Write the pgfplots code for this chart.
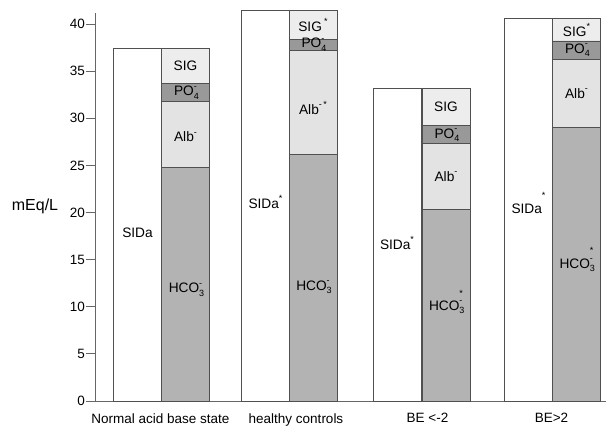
\documentclass[border=0pt]{standalone}
\usepackage{fontspec}
\setmainfont{Liberation Sans}
\usepackage{pgfplots}
\usepackage{pgfplotstable}
\pgfplotsset{compat=1.18}
\definecolor{edge}{HTML}{505050}
\definecolor{hco}{HTML}{B3B3B3}
\definecolor{alb}{HTML}{E3E3E3}
\definecolor{po}{HTML}{999999}
\definecolor{sig}{HTML}{EDEDED}
\definecolor{axisc}{HTML}{666666}
\newcommand{\lblfont}{\fontsize{13.7}{16}\selectfont}
\newcommand{\sbs}[1]{\raisebox{-0.45ex}{\fontsize{9}{10}\selectfont #1}}
\newcommand{\sps}[1]{\raisebox{0.95ex}{\fontsize{9}{10}\selectfont #1}}
\newcommand{\sss}[1]{\raisebox{2.0ex}{\fontsize{9}{10}\selectfont #1}}
\tikzset{blbl/.style={font=\lblfont, inner sep=0pt}}

\pgfplotstableread{
x     white  hco   alb   po    sig
137.5 37.4   0     0     0     0
185.5 0      24.8  7.0   1.9   3.7
265.5 41.4   0     0     0     0
313   0      26.2  11.0  1.2   3.0
397   33.2   0     0     0     0
446   0      20.3  7.0   1.95  3.95
528.5 40.6   0     0     0     0
576.5 0      29.0  7.25  1.95  2.4
}\chartdata

\begin{document}
\begin{tikzpicture}
\begin{axis}[
  scale only axis, width=511pt, height=388.3pt,
  xmin=95, xmax=606, ymin=0, ymax=41.2,
  axis x line=bottom, axis y line=left,
  axis line style={-, draw=axisc, line width=0.9pt},
  ytick={0,5,...,40},
  tick align=outside, major tick length=9pt,
  ytick style={draw=axisc, line width=0.9pt},
  xtick={160.5,296,427.5,551.5},
  xticklabels={Normal acid base state, healthy controls, BE <-2, BE>2},
  xtick style={draw=none},
  tick label style={font=\fontsize{13.5}{16}\selectfont},
  yticklabel style={inner sep=1pt},
  /pgf/number format/assume math mode=true,
  ylabel={mEq/L},
  ylabel style={rotate=-90, font=\fontsize{16}{18}\selectfont, at={(axis description cs:0,0.5)}, anchor=center, xshift=-60pt},
  ybar stacked, bar width=48,
  clip=false,
]
\addplot[fill=white, draw=edge, line width=0.8pt] table[x=x, y=white] {\chartdata};
\addplot[fill=hco, draw=edge, line width=0.8pt] table[x=x, y=hco] {\chartdata};
\addplot[fill=alb, draw=edge, line width=0.8pt] table[x=x, y=alb] {\chartdata};
\addplot[fill=po, draw=edge, line width=0.8pt] table[x=x, y=po] {\chartdata};
\addplot[fill=sig, draw=edge, line width=0.8pt] table[x=x, y=sig] {\chartdata};

\coordinate (a1) at (axis cs:137.5,17.9);
\coordinate (a2) at (axis cs:185.5,11.8);
\coordinate (a3) at (axis cs:185.5,28.0);
\coordinate (a4) at (axis cs:185.5,32.7);
\coordinate (a5) at (axis cs:185.5,35.55);
\coordinate (b1) at (axis cs:265.5,21.1);
\coordinate (b2) at (axis cs:313,12.1);
\coordinate (b3) at (axis cs:313,31.1);
\coordinate (b4) at (axis cs:313,37.8);
\coordinate (b5) at (axis cs:313,39.9);
\coordinate (c1) at (axis cs:397,16.8);
\coordinate (c2) at (axis cs:446,10.5);
\coordinate (c3) at (axis cs:446,23.8);
\coordinate (c4) at (axis cs:446,28.2);
\coordinate (c5) at (axis cs:446,31.2);
\coordinate (d1) at (axis cs:528.5,21.0);
\coordinate (d2) at (axis cs:576.5,15.0);
\coordinate (d3) at (axis cs:576.5,32.6);
\coordinate (d4) at (axis cs:576.5,37.2);
\coordinate (d5) at (axis cs:576.5,39.4);
\end{axis}

\node[blbl] at (a1) {SIDa};
\node[blbl] at (a2) {HCO\rlap{\sbs{3}}\sps{-}};
\node[blbl] at (a3) {Alb\sps{-}};
\node[blbl] at (a4) {PO\rlap{\sbs{4}}\sps{-}};
\node[blbl] at (a5) {SIG};

\node[blbl] at (b1) {SIDa\sps{*}};
\node[blbl] at (b2) {HCO\rlap{\sbs{3}}\sps{-}};
\node[blbl] at (b3) {Alb\sps{-\,*}};
\node[blbl] at (b4) {PO\rlap{\sbs{4}}\sps{-}};
\node[blbl] at (b5) {SIG\,\sps{*}};

\node[blbl] at (c1) {SIDa\sps{*}};
\node[blbl] at (c2) {HCO\rlap{\sbs{3}}\rlap{\sps{-}}\sss{*}};
\node[blbl] at (c3) {Alb\sps{-}};
\node[blbl] at (c4) {PO\rlap{\sbs{4}}\sps{-}};
\node[blbl] at (c5) {SIG};

\node[blbl] at (d1) {SIDa\sss{*}};
\node[blbl] at (d2) {HCO\rlap{\sbs{3}}\rlap{\sps{-}}\sss{*}};
\node[blbl] at (d3) {Alb\sps{-}};
\node[blbl] at (d4) {PO\rlap{\sbs{4}}\sps{-}};
\node[blbl] at (d5) {SIG\sps{*}};

\pgfresetboundingbox
\path (-95pt,-26pt) rectangle (511pt,401pt);
\end{tikzpicture}
\end{document}
